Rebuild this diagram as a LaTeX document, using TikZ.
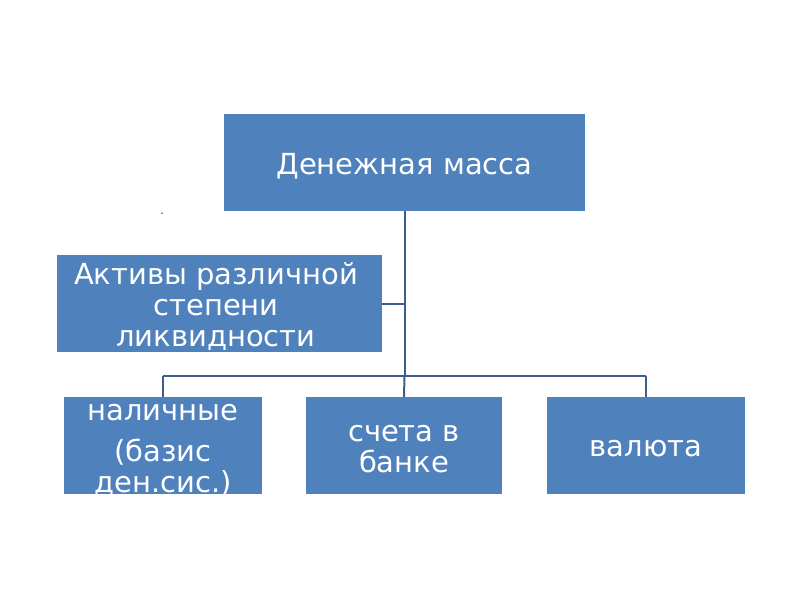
\documentclass[tikz,border=0pt]{standalone}
\usepackage{fontspec}
\setmainfont{DejaVu Sans}
\definecolor{boxblue}{HTML}{4F81BD}
\definecolor{lineblue}{HTML}{3B5E8F}
\begin{document}
\begin{tikzpicture}[x=1pt,y=-1pt,
  box/.style={fill=boxblue,draw=none,inner sep=0pt,minimum height=97pt},
  lbl/.style={text=white,inner sep=0pt,anchor=base,font=\fontsize{29}{32}\selectfont},
  conn/.style={draw=lineblue,line width=2pt}]
\useasboundingbox (0,0) rectangle (800,600);
\fill[white] (0,0) rectangle (800,600);
\node[box,minimum width=361pt] (top) at (404.5,162.5) {};
\node[box,minimum width=325pt] (act) at (219.5,303.5) {};
\node[box,minimum width=198pt] (b1) at (163,445.5) {};
\node[box,minimum width=196pt] (b2) at (404,445.5) {};
\node[box,minimum width=198pt] (b3) at (646,445.5) {};
\node[lbl] (ttop) at (404.5,174) {Денежная масса};
\node[lbl] (ta1) at (216,284) {Активы различной};
\node[lbl] (ta2) at (216,315) {степени};
\node[lbl] (ta3) at (216,346) {ликвидности};
\node[lbl] (tb21) at (404,441) {счета в};
\node[lbl] (tb22) at (404,472) {банке};
\node[lbl] (tb3) at (646,456) {валюта};
\begin{scope}
\clip (b1.north west) rectangle (b1.south east);
\node[lbl] (t1) at (163,420) {наличные};
\node[lbl] (t2) at (163,461) {(базис};
\node[lbl] (t3) at (163,492) {ден.сис.)};
\end{scope}
\coordinate (hub) at (top.south |- 0,376);
\coordinate (hl) at (b1.north |- 0,376);
\coordinate (hr) at (b3.north |- 0,376);
\draw[conn] (top.south) -- (hub);
\draw[conn] (act.east) -- (act.east -| top.south);
\draw[conn] (hl) -- (hr);
\draw[conn] (hl) -- (b1.north);
\draw[conn] (hub) -- (b2.north);
\draw[conn] (hr) -- (b3.north);
\node[circle,fill=black,inner sep=0pt,minimum size=1.5pt] (dot) at (162,213) {};
\end{tikzpicture}
\end{document}
